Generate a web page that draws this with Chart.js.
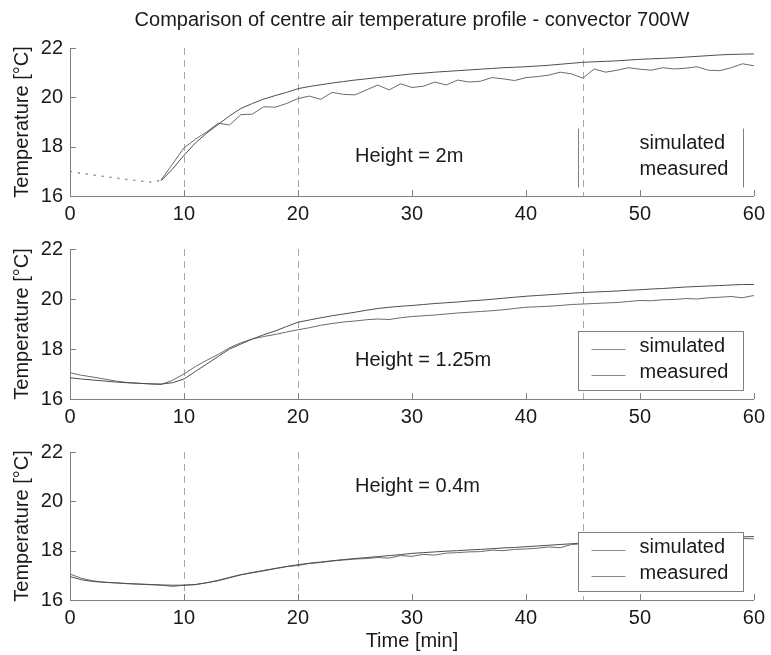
<!DOCTYPE html>
<html>
<head>
<meta charset="utf-8">
<script src="https://cdn.jsdelivr.net/npm/chart.js@4.4.1/dist/chart.umd.min.js"></script>
<style>
  body { margin: 0; background: #fff; }
  canvas { position: absolute; left: 0; }
  #c1 { top: 0; }
  #c2 { top: 230px; }
  #c3 { top: 433px; }
</style>
</head>
<body>
<canvas id="c1" width="771" height="230"></canvas>
<canvas id="c2" width="771" height="203"></canvas>
<canvas id="c3" width="771" height="222"></canvas>
<script>
// time axis, minutes
const times = [0,1,2,3,4,5,6,7,8,9,10,11,12,13,14,15,16,17,18,19,20,
  21,22,23,24,25,26,27,28,29,30,31,32,33,34,35,36,37,38,39,40,
  41,42,43,44,45,46,47,48,49,50,51,52,53,54,55,56,57,58,59,60];

// height = 2m
const sim2m = [17.00,16.93,16.86,16.80,16.74,16.68,16.62,16.57,16.62,17.10,17.65,
  18.15,18.55,18.90,19.25,19.55,19.75,19.93,20.07,20.20,20.35,
  20.44,20.51,20.58,20.64,20.70,20.75,20.80,20.85,20.90,20.95,
  20.98,21.02,21.05,21.08,21.11,21.14,21.17,21.20,21.22,21.24,
  21.27,21.30,21.34,21.38,21.42,21.44,21.46,21.48,21.51,21.54,
  21.56,21.58,21.60,21.63,21.66,21.69,21.72,21.74,21.75,21.76];
const meas2m = [17.00,16.90,16.85,16.78,16.72,16.66,16.62,16.55,16.65,17.30,17.95,
  18.30,18.60,18.95,18.88,19.30,19.32,19.62,19.60,19.75,19.95,
  20.05,19.92,20.20,20.12,20.10,20.30,20.50,20.30,20.55,20.40,
  20.45,20.62,20.50,20.70,20.62,20.65,20.80,20.75,20.68,20.80,
  20.84,20.90,21.02,20.95,20.78,21.15,21.02,21.10,21.20,21.14,
  21.10,21.20,21.15,21.18,21.24,21.10,21.08,21.20,21.36,21.28];

// height = 1.25m
const sim125 = [16.85,16.80,16.76,16.72,16.68,16.65,16.63,16.61,16.60,16.65,16.80,
  17.10,17.40,17.70,18.00,18.20,18.40,18.57,18.72,18.90,19.07,
  19.16,19.25,19.33,19.40,19.47,19.55,19.62,19.67,19.71,19.74,
  19.78,19.82,19.85,19.88,19.92,19.95,19.99,20.03,20.07,20.11,
  20.14,20.17,20.20,20.23,20.26,20.28,20.30,20.32,20.35,20.37,
  20.40,20.42,20.45,20.48,20.50,20.52,20.54,20.56,20.58,20.58];
const meas125 = [17.05,16.95,16.88,16.80,16.72,16.66,16.63,16.60,16.58,16.75,17.00,
  17.30,17.55,17.78,18.05,18.25,18.40,18.50,18.58,18.68,18.77,
  18.85,18.95,19.02,19.08,19.12,19.17,19.20,19.18,19.25,19.30,
  19.33,19.36,19.40,19.44,19.47,19.50,19.53,19.57,19.62,19.67,
  19.69,19.71,19.74,19.78,19.80,19.82,19.84,19.86,19.90,19.94,
  19.93,19.97,19.98,20.02,20.00,20.05,20.07,20.10,20.05,20.14];

// height = 0.4m
const sim04 = [16.95,16.82,16.75,16.72,16.69,16.67,16.65,16.63,16.61,16.60,16.60,
  16.63,16.70,16.78,16.90,17.02,17.12,17.20,17.28,17.36,17.43,
  17.49,17.54,17.59,17.64,17.68,17.72,17.76,17.80,17.84,17.89,
  17.92,17.95,17.98,18.00,18.03,18.05,18.08,18.11,18.13,18.16,
  18.19,18.22,18.25,18.28,18.31,18.33,18.35,18.37,18.39,18.41,
  18.43,18.45,18.47,18.49,18.51,18.52,18.54,18.55,18.56,18.57];
const meas04 = [17.05,16.88,16.78,16.72,16.70,16.66,16.64,16.62,16.60,16.55,16.60,
  16.62,16.70,16.80,16.92,17.03,17.10,17.18,17.27,17.35,17.40,
  17.48,17.52,17.58,17.62,17.66,17.68,17.72,17.70,17.80,17.77,
  17.85,17.82,17.90,17.92,17.95,17.96,18.02,18.00,18.05,18.07,
  18.10,18.15,18.12,18.25,18.28,18.30,18.32,18.34,18.36,18.38,
  18.40,18.42,18.43,18.44,18.45,18.46,18.47,18.48,18.49,18.48];

const xTicks = [0, 10, 20, 30, 40, 50, 60];
const yTicks = [16, 18, 20, 22];
const markerTimes = [10, 20, 45];
const seriesNames = ['simulated', 'measured'];

const FONT = '"Liberation Sans", Arial, Helvetica, sans-serif';
const TEXT = '#1a1a1a';
const AXIS = '#808080';

const pairs = vals => times.map((t, i) => ({ x: t, y: vals[i] }));

// dashed guide lines at the marker times, drawn through the x scale
const markers = {
  id: 'markers',
  beforeDatasetsDraw(chart) {
    const { ctx, chartArea: a, scales: { x } } = chart;
    ctx.save();
    ctx.strokeStyle = '#a8a8a8';
    ctx.lineWidth = 1;
    ctx.setLineDash([7, 5]);
    ctx.beginPath();
    markerTimes.forEach(t => {
      const px = Math.round(x.getPixelForValue(t)) + 0.5;
      ctx.moveTo(px, a.top);
      ctx.lineTo(px, a.bottom);
    });
    ctx.stroke();
    ctx.restore();
  }
};

// tick marks pointing into the plot, like the original figure
const innerTicks = {
  id: 'innerTicks',
  afterDraw(chart) {
    const { ctx, chartArea: a, scales: { x, y } } = chart;
    ctx.save();
    ctx.strokeStyle = AXIS;
    ctx.lineWidth = 1;
    ctx.beginPath();
    x.ticks.forEach(t => {
      const px = Math.round(x.getPixelForValue(t.value)) + 0.5;
      ctx.moveTo(px, a.bottom);
      ctx.lineTo(px, a.bottom - 6);
    });
    y.ticks.forEach(t => {
      const py = Math.round(y.getPixelForValue(t.value)) + 0.5;
      ctx.moveTo(a.left, py);
      ctx.lineTo(a.left + 6, py);
    });
    ctx.stroke();
    ctx.restore();
  }
};

// "Height = ..." label and the legend box
const notes = {
  id: 'notes',
  afterDatasetsDraw(chart, args, opts) {
    const { ctx, chartArea: a, scales: { x, y } } = chart;
    ctx.save();
    ctx.font = '20px ' + FONT;
    ctx.fillStyle = TEXT;
    ctx.textBaseline = 'middle';
    ctx.textAlign = 'left';
    ctx.fillText(opts.label, x.getPixelForValue(opts.at[0]), y.getPixelForValue(opts.at[1]));

    const w = 165, h = 59;
    const left = Math.round(a.right - 11 - w) + 0.5;
    const top = Math.round(a.bottom - 9 - h) + 0.5;
    ctx.strokeStyle = AXIS;
    ctx.lineWidth = 1;
    if (opts.box) {
      ctx.fillStyle = '#fff';
      ctx.fillRect(left, top, w, h);
      ctx.strokeRect(left, top, w, h);
    } else {
      ctx.beginPath();
      ctx.moveTo(left, top); ctx.lineTo(left, top + h);
      ctx.moveTo(left + w, top); ctx.lineTo(left + w, top + h);
      ctx.stroke();
    }
    seriesNames.forEach((name, i) => {
      const ry = top + 15 + i * 26;
      if (opts.box) {
        ctx.strokeStyle = '#8a8a8a';
        ctx.beginPath();
        ctx.moveTo(left + 13, Math.round(ry + 2) + 0.5);
        ctx.lineTo(left + 47, Math.round(ry + 2) + 0.5);
        ctx.stroke();
      }
      ctx.fillStyle = TEXT;
      ctx.fillText(name, left + 61, ry);
    });
    ctx.restore();
  }
};

const makeChart = (id, sim, meas, cfg) => {
  const earlyDots = cfg.dotted
    ? { borderDash: c => c.p1.parsed.x <= 8 ? [2, 6] : undefined,
        borderColor: c => c.p1.parsed.x <= 8 ? '#8a8a8a' : undefined }
    : {};
  return new Chart(document.getElementById(id), {
    type: 'line',
    data: {
      datasets: [
        { label: seriesNames[0], data: pairs(sim), borderColor: '#4d4d4d', borderWidth: 1,
          pointRadius: 0, tension: 0, segment: earlyDots },
        { label: seriesNames[1], data: pairs(meas), borderColor: '#6a6a6a', borderWidth: 1,
          pointRadius: 0, tension: 0, segment: earlyDots }
      ]
    },
    options: {
      responsive: false,
      animation: false,
      events: [],
      layout: { padding: { top: cfg.padTop, right: 13, left: 0, bottom: 0 } },
      plugins: {
        legend: { display: false },
        tooltip: { enabled: false },
        title: {
          display: !!cfg.title,
          text: cfg.title || '',
          fullSize: false,
          color: TEXT,
          font: { family: FONT, size: 20, weight: 'normal' },
          padding: { top: 8, bottom: 16 }
        },
        notes: { label: cfg.label, at: cfg.labelAt, box: cfg.box }
      },
      scales: {
        x: {
          type: 'linear', min: 0, max: 60,
          afterBuildTicks: s => { s.ticks = xTicks.map(v => ({ value: v })); },
          afterFit: s => { s.height = cfg.xHeight; },
          grid: { display: false, drawTicks: false },
          border: { display: true, color: AXIS },
          ticks: { color: TEXT, padding: 6, font: { family: FONT, size: 20 }, maxRotation: 0 },
          title: {
            display: !!cfg.xTitle, text: cfg.xTitle || '', color: TEXT,
            font: { family: FONT, size: 20 }, padding: { top: 0, bottom: 2 }
          }
        },
        y: {
          type: 'linear', min: 16, max: 22,
          afterBuildTicks: s => { s.ticks = yTicks.map(v => ({ value: v })); },
          afterFit: s => { s.width = 70; },
          grid: { display: false, drawTicks: false },
          border: { display: true, color: AXIS },
          ticks: { color: TEXT, padding: 7, font: { family: FONT, size: 20 } },
          title: {
            display: true, text: 'Temperature [°C]', color: TEXT,
            font: { family: FONT, size: 20 }, padding: { top: 10, bottom: 0 }
          }
        }
      }
    },
    plugins: [markers, innerTicks, notes]
  });
};

makeChart('c1', sim2m, meas2m, {
  title: 'Comparison of centre air temperature profile - convector 700W',
  padTop: 0, xHeight: 34, label: 'Height = 2m', labelAt: [25, 17.6], box: false, dotted: true
});
makeChart('c2', sim125, meas125, {
  padTop: 18, xHeight: 34, label: 'Height = 1.25m', labelAt: [25, 17.54], box: true
});
makeChart('c3', sim04, meas04, {
  padTop: 16, xHeight: 55, xTitle: 'Time [min]', label: 'Height = 0.4m', labelAt: [25, 20.6], box: true
});
</script>
</body>
</html>
